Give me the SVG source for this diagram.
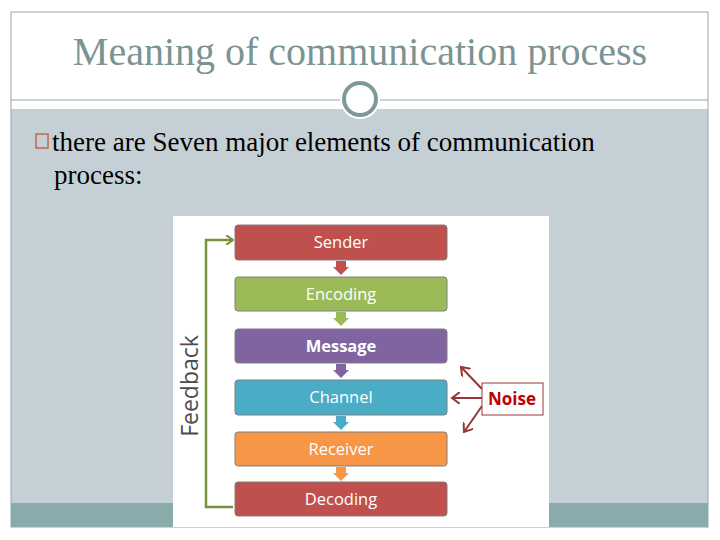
<svg xmlns="http://www.w3.org/2000/svg" width="720" height="540" viewBox="0 0 720 540">
<defs>
<style>
.box{stroke:#7f7f7f;stroke-width:1}
.bt{font-family:"Open Sans","DejaVu Sans",sans-serif;font-size:16.5px;fill:#fff;text-anchor:middle}
.tm{font-family:"Liberation Serif",serif;fill:#000;font-size:27px}
</style>
<marker id="ga" markerWidth="8" markerHeight="10" refX="7" refY="5" orient="auto" markerUnits="userSpaceOnUse"><path d="M0,0 L7,5 L0,10" fill="none" stroke="#76923c" stroke-width="2"/></marker>
<marker id="ra" markerWidth="10" markerHeight="12" refX="8" refY="6" orient="auto" markerUnits="userSpaceOnUse"><path d="M0,0 L8,6 L0,12" fill="none" stroke="#953735" stroke-width="2"/></marker>
</defs>
<rect width="720" height="540" fill="#fff"/>
<rect x="11" y="109" width="697" height="394" fill="#c5d0d6"/>
<rect x="11" y="503" width="697" height="24" fill="#8aabab"/>
<rect x="11" y="12" width="697" height="515" fill="none" stroke="#95a8a8" stroke-width="1"/>
<line x1="11" y1="100" x2="708" y2="100" stroke="#95a8a8" stroke-width="1"/>
<circle cx="360" cy="99" r="20" fill="#fff"/>
<circle cx="360" cy="99" r="16" fill="#fff" stroke="#7f9999" stroke-width="4"/>
<text x="360" y="65" text-anchor="middle" font-family="Liberation Serif,serif" font-size="40" fill="#7a9393">Meaning of communication process</text>
<rect x="36" y="134" width="12" height="14" fill="none" stroke="#c0674a" stroke-width="1.5"/>
<text class="tm" x="52" y="151">there are Seven major elements of communication</text>
<text class="tm" x="54" y="184">process:</text>
<rect x="173" y="216" width="376" height="311" fill="#fff"/>
<g id="connectors">
<polyline points="233,507 206,507 206,240 233,240" fill="none" stroke="#76923c" stroke-width="2.5" marker-end="url(#ga)"/>
<line x1="482" y1="398" x2="452" y2="398" stroke="#953735" stroke-width="2" marker-end="url(#ra)"/>
<line x1="482" y1="389" x2="461" y2="367" stroke="#953735" stroke-width="2" marker-end="url(#ra)"/>
<line x1="482" y1="406" x2="464" y2="432" stroke="#953735" stroke-width="2" marker-end="url(#ra)"/>
<path d="M336,261 h10 v6 h3 l-8,8 l-8,-8 h3z" fill="#c0504d"/>
<path d="M336,312 h10 v6 h3 l-8,8 l-8,-8 h3z" fill="#9bbb59"/>
<path d="M336,364 h10 v6 h3 l-8,8 l-8,-8 h3z" fill="#8064a2"/>
<path d="M336,416 h10 v6 h3 l-8,8 l-8,-8 h3z" fill="#4bacc6"/>
<path d="M336,467 h10 v6 h3 l-8,8 l-8,-8 h3z" fill="#f79646"/>
</g>
<text transform="translate(198,386) rotate(-90)" text-anchor="middle" font-family="Open Sans,DejaVu Sans,sans-serif" font-size="23" fill="#4d4d4d">Feedback</text>
<g id="sender"><rect class="box" x="235" y="225" width="212" height="35" rx="3" fill="#c0504d"/><text class="bt" x="341" y="248">Sender</text></g>
<g id="encoding"><rect class="box" x="235" y="277" width="212" height="34" rx="3" fill="#9bbb59"/><text class="bt" x="341" y="300">Encoding</text></g>
<g id="message"><rect class="box" x="235" y="329" width="212" height="34" rx="3" fill="#8064a2"/><text class="bt" x="341" y="352" font-weight="bold">Message</text></g>
<g id="channel"><rect class="box" x="235" y="380" width="212" height="35" rx="3" fill="#4bacc6"/><text class="bt" x="341" y="403">Channel</text></g>
<g id="receiver"><rect class="box" x="235" y="432" width="212" height="34" rx="3" fill="#f79646"/><text class="bt" x="341" y="455">Receiver</text></g>
<g id="decoding"><rect class="box" x="235" y="482" width="212" height="34" rx="3" fill="#c0504d"/><text class="bt" x="341" y="505">Decoding</text></g>
<g id="noise"><rect x="482" y="383" width="61" height="32" fill="#fff" stroke="#953735" stroke-width="1"/><text x="512" y="405" text-anchor="middle" font-family="Open Sans,DejaVu Sans,sans-serif" font-weight="bold" font-size="17" fill="#c00000">Noise</text></g>
</svg>
